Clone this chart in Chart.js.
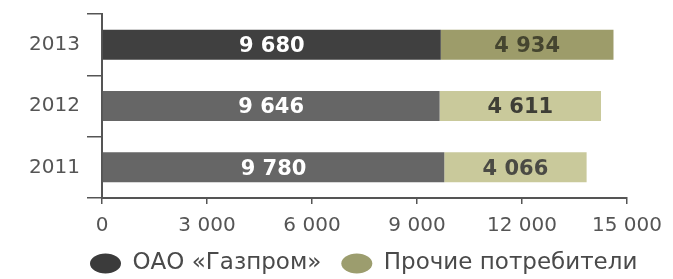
<!DOCTYPE html>
<html>
<head>
<meta charset="utf-8">
<script src="https://cdn.jsdelivr.net/npm/chart.js@4"></script>
<style>
  html, body { margin: 0; padding: 0; background: #fff; }
  #wrap { width: 673px; height: 279px; }
</style>
</head>
<body>
<div id="wrap"><canvas id="chart"></canvas></div>
<script>
const years = ["2013", "2012", "2011"];
const gazprom = [9680, 9646, 9780];
const others = [4934, 4611, 4066];
const xTicks = [0, 3000, 6000, 9000, 12000, 15000];

function fmt(v) {
  return String(v).replace(/\B(?=(\d{3})+(?!\d))/g, " ");
}

// value labels in the middle of every segment
const barLabels = {
  id: "barLabels",
  afterDatasetsDraw(chart) {
    const ctx = chart.ctx;
    ctx.save();
    ctx.font = "bold 21px 'DejaVu Sans'";
    ctx.textAlign = "center";
    ctx.textBaseline = "middle";
    chart.data.datasets.forEach((ds, i) => {
      chart.getDatasetMeta(i).data.forEach((bar, j) => {
        ctx.fillStyle = ds.labelColor[j];
        ctx.fillText(fmt(ds.data[j]), (bar.x + bar.base) / 2, bar.y + 2);
      });
    });
    ctx.restore();
  }
};

// legend starts under the y labels, not centred
const legendShift = {
  id: "legendShift",
  afterLayout(chart) {
    chart.legend.left = 70;
    chart.legend.right = 700;
  }
};

const ctx = document.getElementById("chart").getContext("2d");
const myChart = new Chart(ctx, {
  type: "bar",
  data: {
    labels: years,
    datasets: [
      {
        label: "ОАО «Газпром»",
        data: gazprom,
        backgroundColor: ["#404040", "#666666", "#666666"],
        labelColor: ["#ffffff", "#ffffff", "#ffffff"],
        barPercentage: 0.49,
        categoryPercentage: 1,
      },
      {
        label: "Прочие потребители",
        data: others,
        backgroundColor: ["#9d9c6a", "#c9c99b", "#c9c99b"],
        labelColor: ["#45452f", "#3e3e36", "#4a4a44"],
        barPercentage: 0.49,
        categoryPercentage: 1,
      },
    ],
  },
  options: {
    indexAxis: "y",
    responsive: true,
    maintainAspectRatio: false,
    animation: false,
    layout: {
      padding: { top: 14, right: 46, left: 0, bottom: 0 },
    },
    scales: {
      x: {
        stacked: true,
        min: 0,
        max: 15000,
        afterBuildTicks(scale) {
          scale.ticks = xTicks.map((v) => ({ value: v }));
        },
        afterFit(scale) {
          scale.height = 34;
        },
        border: { color: "#555", width: 2 },
        grid: {
          drawOnChartArea: false,
          tickLength: 6,
          color: "#555",
          lineWidth: 1.5,
        },
        ticks: {
          padding: 10,
          color: "#555",
          font: { family: "'DejaVu Sans'", size: 20 },
          callback: (v) => fmt(v),
        },
      },
      y: {
        stacked: true,
        afterFit(scale) {
          scale.width = 102;
          scale.paddingTop = 0;
          scale.paddingBottom = 0;
        },
        border: { color: "#555", width: 2 },
        grid: {
          offset: true,
          drawOnChartArea: false,
          tickLength: 15,
          color: "#555",
          lineWidth: 1.5,
        },
        ticks: {
          padding: 7,
          color: "#555",
          font: { family: "'DejaVu Sans'", size: 20 },
        },
      },
    },
    plugins: {
      legend: {
        position: "bottom",
        align: "start",
        maxHeight: 47,
        labels: {
          usePointStyle: true,
          pointStyle: "circle",
          boxHeight: 14,
          pointStyleWidth: 31,
          padding: 20,
          color: "#4a4a4a",
          font: { family: "'DejaVu Sans'", size: 23 },
          generateLabels(chart) {
            const cols = ["#3b3b3b", "#9c9d6e"];
            return chart.data.datasets.map((ds, i) => ({
              text: ds.label,
              fillStyle: cols[i],
              strokeStyle: cols[i],
              lineWidth: 0,
              pointStyle: "circle",
              datasetIndex: i,
              fontColor: "#4a4a4a",
            }));
          },
        },
      },
      tooltip: { enabled: false },
    },
  },
  plugins: [barLabels, legendShift],
});
</script>
</body>
</html>
